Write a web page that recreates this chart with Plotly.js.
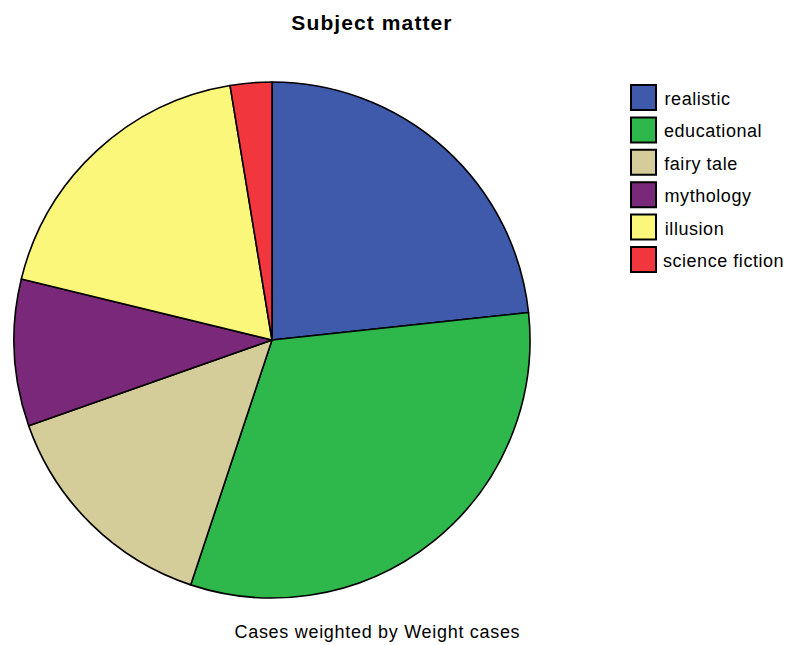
<!DOCTYPE html>
<html><head><meta charset="utf-8">
<script src="https://cdn.plot.ly/plotly-3.0.1.min.js"></script>
<style>html,body{margin:0;padding:0;background:#fff}#chart{width:788px;height:645px}
#chart .annotation-text{letter-spacing:0.55px}
#chart .footnote .annotation-text{letter-spacing:0.7px}
#chart .gtitle{letter-spacing:1.1px}</style>
</head><body><div id="chart"></div>
<script>
var categories = ["realistic", "educational", "fairy tale", "mythology", "illusion", "science fiction"];
var values = [23.3, 31.8, 14.5, 9.2, 18.6, 2.6];
var colors = ["#3f59ab", "#2eb74a", "#d4cc99", "#7a287a", "#faf77a", "#f2363e"];

var W = 788, H = 645;
var shapes = [], annotations = [];
var sq = 25, x0 = 631, y0 = 97.5, step = 32.4;
for (var i = 0; i < categories.length; i++) {
  var cy = y0 + i * step;
  shapes.push({type: "rect", xref: "paper", yref: "paper",
    x0: x0 / W, x1: (x0 + sq) / W, y0: 1 - (cy + sq / 2) / H, y1: 1 - (cy - sq / 2) / H,
    fillcolor: colors[i], line: {color: "#000", width: 2}});
  annotations.push({xref: "paper", yref: "paper", x: 665 / W, y: 1 - (cy + 1.5) / H,
    xanchor: "left", yanchor: "middle", showarrow: false, text: categories[i],
    font: {family: "Liberation Sans, Arial, sans-serif", size: 18, color: "#000"}});
}
annotations.push({xref: "paper", yref: "paper", x: 377 / W, y: 1 - 632 / H,
  xanchor: "center", yanchor: "middle", showarrow: false, text: "Cases weighted by Weight cases",
  font: {family: "Liberation Sans, Arial, sans-serif", size: 18, color: "#000"}});

var trace = {
  type: "pie", labels: categories, values: values, sort: false,
  direction: "clockwise", rotation: 0, textinfo: "none", hoverinfo: "label+percent",
  marker: {colors: colors, line: {color: "#000", width: 1.6}},
  domain: {x: [14 / W, 530 / W], y: [1 - 598 / H, 1 - 82 / H]},
  showlegend: false
};
var layout = {
  width: W, height: H, margin: {l: 0, r: 0, t: 0, b: 0},
  paper_bgcolor: "#fff", plot_bgcolor: "#fff",
  title: {text: "<b>Subject matter</b>", x: 372 / W, xanchor: "center", xref: "paper",
    y: 1 - 22.5 / H, yanchor: "middle", yref: "container",
    font: {family: "Liberation Sans, Arial, sans-serif", size: 21, color: "#000"}},
  shapes: shapes, annotations: annotations, showlegend: false
};
Plotly.newPlot("chart", [trace], layout, {displayModeBar: false, staticPlot: true}).then(function () {
  var anns = document.querySelectorAll("#chart .annotation");
  if (anns.length) anns[anns.length - 1].classList.add("footnote");
});
</script></body></html>
